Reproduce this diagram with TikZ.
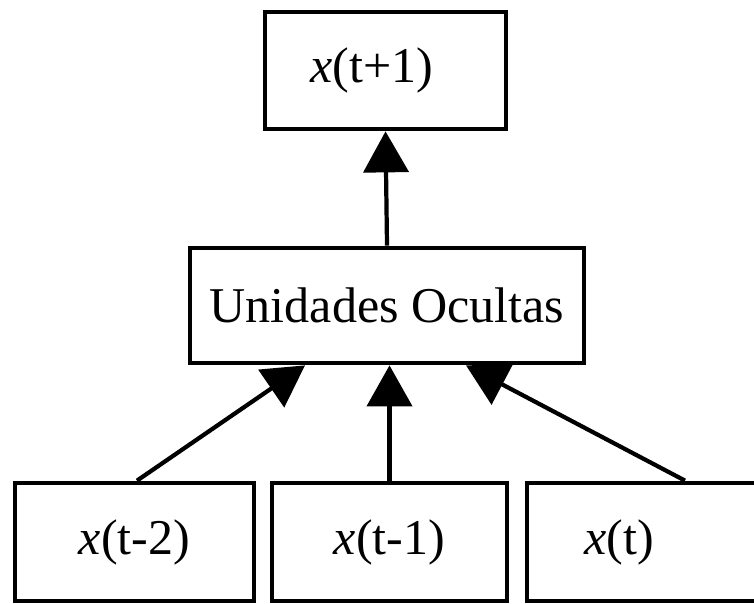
\documentclass[tikz,border=0pt]{standalone}
\usepackage{fontspec}
\setmainfont{Liberation Serif}
\usetikzlibrary{arrows.meta}

\begin{document}
\begin{tikzpicture}[
  caixa/.style={draw,line width=2.7pt,rectangle,inner sep=0pt,minimum height=2.36cm},
  seta/.style={line width=2.4pt,-{Triangle[length=0.82cm,width=0.9cm]}},
  font=\fontsize{28.5}{34}\selectfont]
  \clip (0,0) rectangle (15.08,12.06);
  % caixas
  \node[caixa,minimum width=4.82cm,minimum height=2.34cm,
    label={[name=tsaida,xshift=-0.27cm]center:\textit{x}(t+1)}] (saida) at (7.71,10.65) {};
  \node[caixa,minimum width=7.88cm,minimum height=2.30cm] (ocultas) at (7.74,5.95) {Unidades Ocultas};
  \node[caixa,minimum width=4.78cm] (ent1) at (2.69,1.22) {\textit{x}(t-2)};
  \node[caixa,minimum width=4.70cm] (ent2) at (7.79,1.22) {\textit{x}(t-1)};
  \node[caixa,minimum width=4.86cm,
    label={[name=tent3,xshift=-0.58cm]center:\textit{x}(t)}] (ent3) at (12.97,1.22) {};
  % setas
  \draw[seta] (ocultas.north) -- (saida.south);
  \draw[seta] ([xshift=0.05cm]ent1.north) -- ([xshift=-1.64cm]ocultas.south);
  \draw[seta] (ent2.north) -- (ent2.north |- ocultas.south);
  \draw[seta] ([xshift=0.73cm]ent3.north) -- ([xshift=1.58cm]ocultas.south);
\end{tikzpicture}
\end{document}
